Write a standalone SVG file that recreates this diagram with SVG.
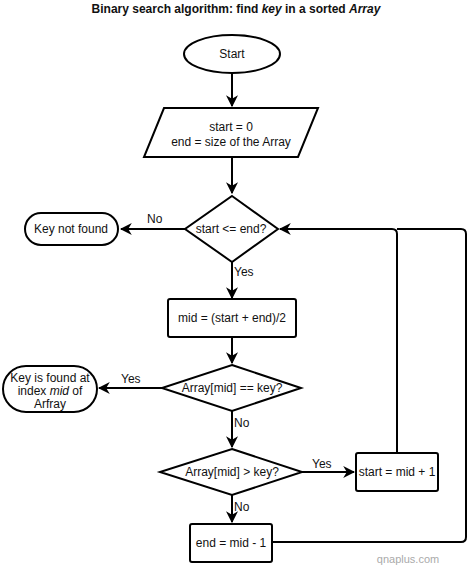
<svg xmlns="http://www.w3.org/2000/svg" width="474" height="571" viewBox="0 0 474 571">
<style>
.s{fill:#fff;stroke:#000;stroke-width:2}
.t{font-family:"Liberation Sans",Arial,sans-serif;font-size:12px;fill:#111;text-anchor:middle}
.c{fill:none;stroke:#000;stroke-width:2}
.l{font-family:"Liberation Sans",Arial,sans-serif;font-size:12px;fill:#111}
</style>
<defs>
<marker id="a" viewBox="0 0 10 10" refX="9" refY="5" markerWidth="6" markerHeight="6" orient="auto" markerUnits="strokeWidth">
<path d="M0,0 L10,5 L0,10 L3,5 Z" fill="#000"/>
</marker>
</defs>
<rect width="474" height="571" fill="#fff"/>
<text class="t" x="236" y="13" font-size="11.5" font-weight="bold">Binary search algorithm: find <tspan font-style="italic">key</tspan> in a sorted <tspan font-style="italic">Array</tspan></text>

<g id="connectors">
<line class="c" x1="232" y1="73" x2="232" y2="106" marker-end="url(#a)"/>
<line class="c" x1="232" y1="157" x2="232" y2="193" marker-end="url(#a)"/>
<line class="c" x1="185" y1="229" x2="121" y2="229" marker-end="url(#a)"/>
<text class="l" x="147" y="223">No</text>
<line class="c" x1="232" y1="262" x2="232" y2="298" marker-end="url(#a)"/>
<text class="l" x="234" y="276">Yes</text>
<line class="c" x1="232" y1="337" x2="232" y2="363" marker-end="url(#a)"/>
<line class="c" x1="162" y1="388" x2="99" y2="388" marker-end="url(#a)"/>
<text class="l" x="121" y="383">Yes</text>
<line class="c" x1="232" y1="411" x2="232" y2="447" marker-end="url(#a)"/>
<text class="l" x="234" y="427">No</text>
<line class="c" x1="302" y1="472" x2="354" y2="472" marker-end="url(#a)"/>
<text class="l" x="312" y="468">Yes</text>
<line class="c" x1="232" y1="495" x2="232" y2="522" marker-end="url(#a)"/>
<text class="l" x="234" y="511">No</text>
<path class="c" d="M397,453 V234 Q397,229 392,229 H280" marker-end="url(#a)"/>
<path class="c" d="M272,542 H461 Q466,542 466,537 V234 Q466,229 461,229 H397"/>
</g>

<g id="start">
<ellipse class="s" cx="232" cy="54" rx="48" ry="19"/>
<text class="t" x="232" y="58">Start</text>
</g>
<g id="init">
<polygon class="s" points="164,108 318,108 298,157 144,157"/>
<text class="t" x="231" y="131">start = 0</text>
<text class="t" x="231" y="146">end = size of the Array</text>
</g>
<g id="cond">
<polygon class="s" points="232,196 278,229 232,262 185,229"/>
<text class="t" x="231" y="233">start &lt;= end?</text>
</g>
<g id="notfound">
<rect class="s" x="25" y="213" width="93" height="32" rx="16"/>
<text class="t" x="71" y="233">Key not found</text>
</g>
<g id="mid">
<rect class="s" x="168" y="299" width="128" height="38" rx="2"/>
<text class="t" x="232" y="322">mid = (start + end)/2</text>
</g>
<g id="eq">
<polygon class="s" points="232,365 301,388 232,411 162,388"/>
<text class="t" x="232" y="392">Array[mid] == key?</text>
</g>
<g id="found">
<rect class="s" x="3" y="366" width="94" height="46" rx="23"/>
<text class="t" x="50" y="382">Key is found at</text>
<text class="t" x="50" y="395">index <tspan font-style="italic">mid</tspan> of</text>
<text class="t" x="50" y="408">Arfray</text>
</g>
<g id="gt">
<polygon class="s" points="232,449 302,472 232,495 160,472"/>
<text class="t" x="232" y="476">Array[mid] &gt; key?</text>
</g>
<g id="startinc">
<rect class="s" x="356" y="453" width="82" height="38" rx="2"/>
<text class="t" x="397" y="476">start = mid + 1</text>
</g>
<g id="enddec">
<rect class="s" x="190" y="524" width="82" height="38" rx="2"/>
<text class="t" x="231" y="547">end = mid - 1</text>
</g>
<text x="408" y="563" font-family="Liberation Sans,Arial,sans-serif" font-size="11" fill="#aaa" text-anchor="middle">qnaplus.com</text>
</svg>
